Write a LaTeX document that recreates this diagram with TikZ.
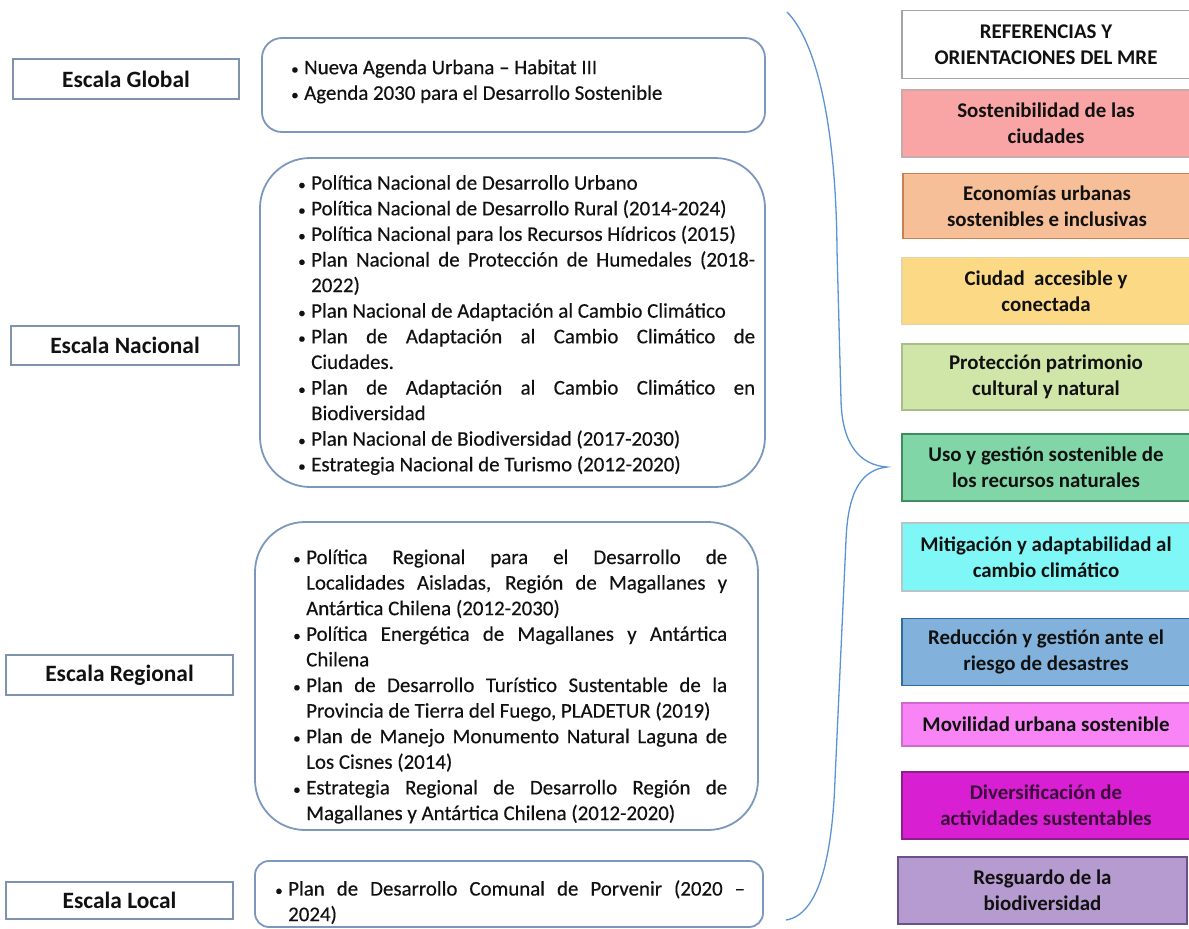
\documentclass[tikz,border=0pt]{standalone}
\usepackage{fontspec}
\setmainfont{Carlito}
\newfontfamily\listafont{Carlito}[FakeBold=0.35]
\definecolor{escborde}{HTML}{7F93AD}
\definecolor{marcoborde}{HTML}{7C97BC}
\definecolor{llavecol}{HTML}{5B93D3}
\definecolor{tinta}{HTML}{111111}
\definecolor{refborde}{HTML}{A6A6A6}
\definecolor{sostfill}{HTML}{F9A5A6}
\definecolor{sostborde}{HTML}{C9A9A9}
\definecolor{econfill}{HTML}{F6BF98}
\definecolor{econborde}{HTML}{C8804E}
\definecolor{ciudfill}{HTML}{FCD985}
\definecolor{ciudborde}{HTML}{E6D3A5}
\definecolor{protfill}{HTML}{D0E6A9}
\definecolor{protborde}{HTML}{A6BF86}
\definecolor{usofill}{HTML}{80D6A7}
\definecolor{usoborde}{HTML}{3E8D5E}
\definecolor{mitfill}{HTML}{80F7F7}
\definecolor{mitborde}{HTML}{B5C6C6}
\definecolor{redfill}{HTML}{82B2DC}
\definecolor{redborde}{HTML}{2E6CA3}
\definecolor{movfill}{HTML}{F884F6}
\definecolor{movborde}{HTML}{CF6ACF}
\definecolor{divfill}{HTML}{D81FD2}
\definecolor{divborde}{HTML}{8E1E8A}
\definecolor{divtinta}{HTML}{3C0A3A}
\definecolor{resfill}{HTML}{B69BD1}
\definecolor{resborde}{HTML}{6B5189}
\newcommand{\vineta}{\par\hangindent=13pt\hangafter=1\noindent\makebox[13pt][l]{\fontsize{15}{15}\selectfont\textbullet}}
\begin{document}
\begin{tikzpicture}[x=1pt,y=-1pt,
    escala/.style={draw=escborde, line width=1.9pt, fill=white, minimum width=227pt, minimum height=39pt, inner sep=0pt, text=tinta, font=\fontsize{23.4}{27}\selectfont\bfseries},
    marco/.style={draw=marcoborde, line width=1.8pt, inner sep=0pt},
    lista/.style={anchor=west, inner sep=0pt, align=justify, text=tinta, font=\fontsize{20.9}{25.6}\listafont},
    llave/.style={draw=llavecol, line width=1.3pt},
    mre/.style 2 args={fill=#1, draw=#2, line width=1.4pt, minimum width=288pt, minimum height=67pt, inner sep=0pt, align=center, text=tinta, font=\fontsize{20.9}{25.6}\selectfont\bfseries}]
    \useasboundingbox (0,0) rectangle (1189,929);
    % Escalas
    \node[escala, minimum width=226pt, minimum height=40pt] (global) at (126,79) {Escala Global};
    \node[escala, minimum width=228pt] (nacional) at (125,345.5) {Escala Nacional};
    \node[escala, minimum height=40pt] (regional) at (119.5,675) {Escala Regional};
    \node[escala, minimum height=37pt] (local) at (119.5,900.5) {Escala Local};
    % Marcos de los instrumentos
    \node[marco, rounded corners=20pt, minimum width=503pt, minimum height=94pt] (m-global) at (513.5,85) {};
    \node[marco, rounded corners=50pt, minimum width=505pt, minimum height=329pt] (m-nac) at (512.5,322.5) {};
    \node[marco, rounded corners=50pt, minimum width=503pt, minimum height=308pt] (m-reg) at (506.5,676) {};
    \node[marco, rounded corners=14pt, minimum width=508pt, minimum height=66pt] (m-loc) at (509,894) {};
    % Instrumentos por escala
    \node[lista, text width=460pt] (l-global) at (291,76) {%
        \vineta Nueva Agenda Urbana – Habitat III
        \vineta Agenda 2030 para el Desarrollo Sostenible\par};
    \node[lista, text width=457pt] (l-nac) at (298,319.5) {%
        \vineta Política Nacional de Desarrollo Urbano
        \vineta Política Nacional de Desarrollo Rural (2014-2024)
        \vineta Política Nacional para los Recursos Hídricos (2015)
        \vineta Plan Nacional de Protección de Humedales (2018-\linebreak 2022)
        \vineta Plan Nacional de Adaptación al Cambio Climático
        \vineta Plan de Adaptación al Cambio Climático de\linebreak Ciudades.
        \vineta Plan de Adaptación al Cambio Climático en\linebreak Biodiversidad
        \vineta Plan Nacional de Biodiversidad (2017-2030)
        \vineta Estrategia Nacional de Turismo (2012-2020)\par};
    \node[lista, text width=434pt] (l-reg) at (293,681) {%
        \vineta Política Regional para el Desarrollo de\linebreak Localidades Aisladas, Región de Magallanes y\linebreak Antártica Chilena (2012-2030)
        \vineta Política Energética de Magallanes y Antártica\linebreak Chilena
        \vineta Plan de Desarrollo Turístico Sustentable de la\linebreak Provincia de Tierra del Fuego, PLADETUR (2019)
        \vineta Plan de Manejo Monumento Natural Laguna de\linebreak Los Cisnes (2014)
        \vineta Estrategia Regional de Desarrollo Región de\linebreak Magallanes y Antártica Chilena (2012-2020)\par};
    \node[lista, text width=470pt] (l-loc) at (275,897) {%
        \vineta Plan de Desarrollo Comunal de Porvenir (2020 –\linebreak 2024)\par};
    % Llave
    \coordinate (llave-sup) at (787,12);
    \coordinate (llave-pico) at (887,467);
    \coordinate (llave-inf) at (786,920);
    \draw[llave] (llave-sup) .. controls (815,40) and (836,120) .. (837,250) -- (841,400)
        .. controls (842,445) and (860,465) .. (llave-pico)
        .. controls (862,470) and (848,490) .. (846,540) -- (835,780)
        .. controls (832,860) and (818,915) .. (llave-inf);
    % Referencias y orientaciones del MRE
    \node[mre={white}{refborde}, minimum height=68pt] (ref) at (1046,44.5) {REFERENCIAS Y\\ORIENTACIONES DEL MRE};
    \node[mre={sostfill}{sostborde}] (sost) at (1046,123.5) {Sostenibilidad de las\\ciudades};
    \node[mre={econfill}{econborde}, minimum height=65pt] (econ) at (1047,206) {Economías urbanas\\sostenibles e inclusivas};
    \node[mre={ciudfill}{ciudborde}] (ciud) at (1046,291) {Ciudad~ accesible y\\conectada};
    \node[mre={protfill}{protborde}, minimum height=66pt] (prot) at (1046,377) {Protección patrimonio\\cultural y natural};
    \node[mre={usofill}{usoborde}] (uso) at (1046,467.5) {Uso y gestión sostenible de\\los recursos naturales};
    \node[mre={mitfill}{mitborde}, minimum height=68pt] (mit) at (1046,557) {Mitigación y adaptabilidad al\\cambio climático};
    \node[mre={redfill}{redborde}] (red) at (1046,652) {Reducción y gestión ante el\\riesgo de desastres};
    \node[mre={movfill}{movborde}, minimum height=43pt] (mov) at (1046,724.5) {Movilidad urbana sostenible};
    \node[mre={divfill}{divborde}, text=divtinta] (div) at (1046,805.5) {Diversificación de\\actividades sustentables};
    \node[mre={resfill}{resborde}, minimum width=289pt] (res) at (1042.5,890.5) {Resguardo de la\\biodiversidad};
\end{tikzpicture}
\end{document}
